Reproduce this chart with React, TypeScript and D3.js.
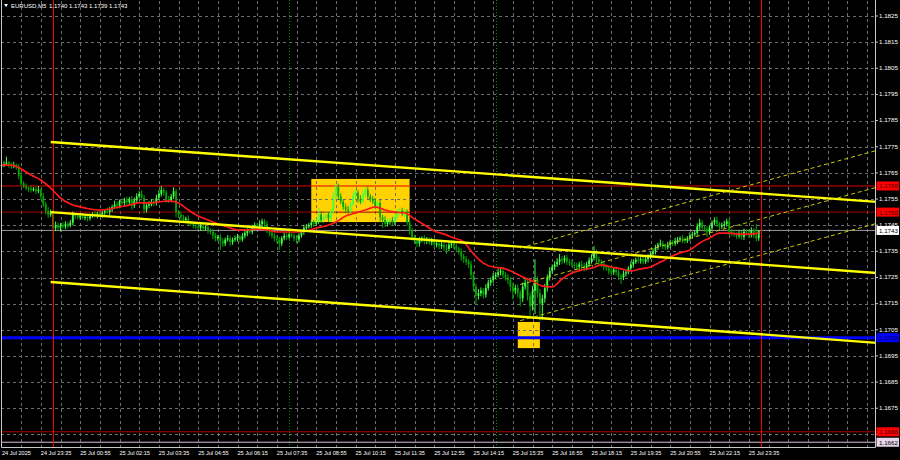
import React from 'react';
import * as d3 from 'd3';

// EURUSD M5, 24 Jul 22:15 .. 25 Jul 23:55 (309 bars)
// prices kept in points (0.00001) above BASE to keep the arrays short
const BASE = 1.17;
const FIRST_OPEN = 675;

const closePts = [
  680, 684, 690, 682, 676, 680, 674, 640, 610, 600,
  592, 590, 585, 588, 580, 584, 560, 530, 505, 490,
  500, 440, 450, 440, 450, 445, 455, 450, 460, 490,
  485, 480, 485, 478, 482, 476, 488, 492, 486, 494,
  490, 498, 505, 500, 510, 520, 530, 525, 540, 535,
  545, 538, 550, 525, 545, 560, 570, 555, 510, 525,
  530, 540, 535, 555, 570, 585, 575, 550, 545, 560,
  580, 500, 490, 480, 470, 475, 460, 455, 450, 445,
  440, 448, 438, 442, 430, 425, 410, 400, 405, 390,
  380, 395, 400, 385, 395, 400, 405, 395, 410, 420,
  430, 425, 440, 450, 445, 455, 465, 455, 430, 420,
  410, 400, 395, 380, 400, 410, 405, 415, 410, 400,
  395, 410, 425, 440, 445, 450, 460, 455, 465, 490,
  470, 480, 490, 475, 500, 560, 595, 560, 540, 520,
  510, 505, 530, 560, 575, 550, 540, 570, 585, 560,
  550, 540, 525, 535, 480, 470, 455, 465, 470, 460,
  480, 500, 505, 495, 500, 460, 430, 405, 390, 380,
  395, 400, 390, 395, 385, 390, 375, 380, 370, 375,
  365, 360, 375, 380, 370, 360, 350, 330, 320, 310,
  300, 260, 215, 180, 190, 200, 185, 210, 230, 240,
  255, 260, 270, 275, 260, 250, 240, 215, 200, 210,
  190, 170, 215, 230, 180, 140, 200, 240, 190, 150,
  170, 210, 250, 275, 290, 300, 310, 320, 315, 325,
  310, 305, 300, 295, 290, 300, 295, 285, 300, 315,
  325, 345, 320, 310, 300, 290, 285, 275, 270, 280,
  270, 255, 250, 265, 270, 285, 300, 310, 318, 315,
  320, 310, 320, 330, 340, 350, 365, 375, 380, 370,
  365, 375, 385, 380, 390, 395, 400, 395, 390, 400,
  410, 415, 420, 445, 460, 440, 435, 425, 440, 460,
  470, 455, 445, 450, 455, 465, 425, 420, 415, 410,
  420, 405, 425, 420, 415, 430, 410, 400, 430,
];

// wick length above the body, points
const upWick = [
  8, 10, 22, 6, 8, 12, 6, 10, 12, 8,
  10, 6, 12, 8, 10, 16, 8, 12, 10, 14,
  10, 12, 14, 10, 8, 12, 10, 8, 10, 12,
  8, 10, 6, 12, 8, 10, 6, 8, 12, 8,
  10, 8, 6, 12, 10, 8, 14, 10, 8, 12,
  10, 14, 8, 12, 10, 12, 10, 14, 10, 8,
  12, 10, 8, 12, 14, 15, 8, 10, 12, 10,
  15, 10, 8, 12, 10, 8, 12, 6, 10, 8,
  10, 8, 12, 6, 10, 8, 12, 10, 8, 12,
  10, 8, 12, 10, 8, 10, 12, 8, 10, 12,
  8, 10, 12, 10, 8, 14, 10, 8, 12, 10,
  8, 10, 12, 10, 8, 12, 10, 14, 8, 10,
  12, 10, 8, 12, 10, 8, 12, 10, 14, 25,
  12, 10, 14, 10, 12, 15, 10, 14, 12, 10,
  12, 14, 10, 16, 12, 10, 14, 12, 10, 14,
  10, 12, 14, 10, 12, 10, 14, 12, 10, 12,
  14, 12, 10, 12, 14, 10, 12, 10, 8, 12,
  10, 8, 12, 10, 8, 12, 10, 8, 12, 10,
  8, 12, 10, 8, 12, 10, 8, 12, 10, 12,
  10, 14, 12, 10, 16, 12, 10, 14, 12, 10,
  12, 10, 14, 15, 12, 10, 14, 12, 16, 12,
  14, 12, 16, 15, 14, 12, 18, 80, 14, 16,
  14, 16, 12, 14, 10, 12, 14, 20, 12, 10,
  12, 10, 14, 10, 12, 10, 14, 12, 10, 12,
  14, 25, 12, 10, 8, 12, 10, 8, 12, 10,
  12, 10, 8, 12, 10, 8, 12, 10, 8, 12,
  10, 8, 12, 10, 8, 12, 10, 8, 15, 10,
  8, 12, 10, 8, 12, 10, 8, 12, 10, 8,
  12, 10, 8, 12, 15, 10, 8, 12, 10, 8,
  10, 12, 8, 10, 12, 10, 8, 10, 12, 8,
  10, 8, 12, 10, 8, 12, 10, 45, 0,
];

// wick length below the body, points
const downWick = [
  10, 8, 6, 12, 10, 8, 12, 14, 10, 8,
  8, 12, 10, 6, 10, 8, 12, 10, 14, 12,
  8, 50, 12, 10, 14, 8, 10, 12, 8, 10,
  12, 8, 10, 6, 10, 12, 8, 10, 6, 10,
  8, 12, 10, 8, 12, 10, 8, 12, 10, 8,
  12, 10, 14, 15, 10, 12, 8, 10, 15, 12,
  10, 8, 12, 10, 8, 10, 12, 14, 10, 8,
  10, 20, 12, 10, 8, 12, 10, 8, 12, 10,
  8, 12, 10, 8, 12, 10, 14, 12, 10, 35,
  12, 10, 8, 14, 10, 8, 12, 10, 8, 10,
  12, 8, 10, 12, 8, 10, 12, 14, 10, 12,
  10, 12, 14, 25, 10, 8, 12, 10, 8, 12,
  15, 10, 8, 12, 10, 8, 10, 12, 8, 10,
  12, 10, 8, 14, 10, 8, 12, 14, 10, 12,
  14, 12, 10, 8, 12, 14, 10, 8, 12, 10,
  12, 10, 14, 12, 16, 30, 12, 10, 14, 12,
  10, 8, 12, 10, 14, 12, 16, 14, 12, 14,
  12, 10, 14, 12, 10, 12, 14, 10, 12, 10,
  14, 20, 10, 12, 10, 14, 12, 16, 14, 12,
  14, 16, 18, 35, 14, 12, 16, 12, 10, 12,
  10, 12, 10, 12, 14, 12, 16, 18, 35, 14,
  16, 30, 14, 12, 18, 45, 16, 90, 18, 65,
  60, 16, 14, 12, 10, 12, 10, 12, 14, 10,
  12, 10, 8, 12, 10, 14, 10, 12, 8, 10,
  12, 10, 14, 12, 10, 12, 10, 12, 15, 10,
  12, 14, 25, 10, 12, 8, 10, 12, 8, 10,
  12, 10, 8, 12, 10, 8, 12, 10, 8, 12,
  10, 8, 12, 10, 8, 12, 10, 14, 10, 8,
  10, 12, 8, 10, 12, 14, 10, 20, 12, 10,
  10, 12, 14, 10, 12, 10, 14, 12, 10, 12,
  10, 10, 12, 10, 14, 12, 10, 12, 10,
];

// red moving average, read every 4th bar (points)
const MA_STEP = 4;
const maPts = [
  680, 680, 665, 642, 623, 592, 554, 531, 520, 512,
  508, 512, 520, 527, 535, 535, 539, 543, 535, 508,
  485, 470, 455, 443, 432, 432, 435, 432, 424, 424,
  424, 428, 439, 447, 462, 485, 497, 508, 520, 508,
  500, 497, 474, 451, 428, 416, 401, 386, 340, 305,
  290, 286, 271, 252, 237, 217, 214, 244, 267, 279,
  286, 298, 290, 283, 275, 283, 290, 309, 328, 344,
  355, 382, 401, 420, 420, 416, 416, 420,
];

const timeLabels = [
  '24 Jul 2025', '24 Jul 23:35', '25 Jul 00:55', '25 Jul 02:15', '25 Jul 03:35',
  '25 Jul 04:55', '25 Jul 06:15', '25 Jul 07:35', '25 Jul 08:55', '25 Jul 10:15',
  '25 Jul 11:35', '25 Jul 12:55', '25 Jul 14:15', '25 Jul 15:35', '25 Jul 16:55',
  '25 Jul 18:15', '25 Jul 19:35', '25 Jul 20:55', '25 Jul 22:15', '25 Jul 23:35',
];
const LABEL_EVERY = 16;
const GRID_EVERY = 8;

// price scale labels (1.1665 sits under the 1.1666 tag, so only its grid line shows)
const priceTicks = [
  1.1825, 1.1815, 1.1805, 1.1795, 1.1785, 1.1775, 1.1765, 1.1755, 1.1745,
  1.1735, 1.1725, 1.1715, 1.1705, 1.1695, 1.1685, 1.1675, 1.1665,
];
const hiddenTicks = [1.1665];

// horizontal levels: resistance, support, bid, key level, lower levels
const levelPrices = [1.1760, 1.1750, 1.1743, 1.1702, 1.1666, 1.1662];

// descending channel (bar index, price)
const channelBars = [20, 356];
const channelUpper = [1.17768, 1.17539];
const channelMid = [1.17500, 1.17267];
const channelLower = [1.17233, 1.17000];

// rising regression channel, dashed
const regBars = [211, 356];
const regUpper = [1.17363, 1.17736];
const regMid = [1.17223, 1.17595];
const regLower = [1.17085, 1.17457];

// highlighted zones [fromBar, toBar], [topPrice, bottomPrice]
const boxBars = [[126, 166], [210, 219]];
const boxPrices = [[1.17627, 1.17462], [1.17080, 1.16980]];

const dayBars = [21, 309];
const sessionBars = [117, 201];

const W = 900;
const H = 460;
const PLOT_R = 875;
const PLOT_B = 447;
const FONT = '"Liberation Sans", Arial, sans-serif';

const LEVEL_STYLE = [
  { line: '#e00000', width: 1, box: '#ff0000', text: '#400000' },
  { line: '#a00000', width: 1, box: '#ff0000', text: '#400000' },
  { line: '#9a9a9a', width: 1, box: '#ffffff', text: '#000000' },
  { line: '#0000ff', width: 3, box: '#0000ff', text: '#000040' },
  { line: '#b00000', width: 1, box: '#ff0000', text: '#400000' },
  { line: '#d8bfd8', width: 1, box: '#e6d6ea', text: '#000000' },
];

export default function App() {
  const x = d3.scaleLinear().domain([0, 308]).range([1.5, 758.7]);
  const y = d3.scaleLinear().domain([1.1825, 1.1665]).range([16, 434.4]);
  const p = (v: number) => BASE + v / 100000;
  const px = (b: number) => Math.round(x(b)) + 0.5;

  const bars = closePts.map((c, i) => {
    const o = i === 0 ? FIRST_OPEN : closePts[i - 1];
    return {
      i,
      o: p(o),
      c: p(c),
      h: p(Math.max(o, c) + upWick[i]),
      l: p(Math.min(o, c) - downWick[i]),
    };
  });

  const maLine = d3
    .line<number>()
    .x((_, k) => x(k * MA_STEP))
    .y((v) => y(p(v)))
    .curve(d3.curveMonotoneX);

  const last = bars[bars.length - 1];
  const title = [last.o, last.h, last.l, last.c].map((v) => v.toFixed(4)).join(' ');

  const gridX = d3.range(GRID_EVERY, 357, GRID_EVERY);
  const seg = (b: number[], pr: number[]) => ({ x1: x(b[0]), y1: y(pr[0]), x2: x(b[1]), y2: y(pr[1]) });

  return (
    <div style={{ position: 'absolute', left: 0, top: 0 }}>
      <svg width={W} height={H} style={{ display: 'block', background: '#000' }} fontFamily={FONT}>
        <rect x={0} y={0} width={W} height={H} fill="#000" />

        {/* zones */}
        {boxBars.map((b, k) => (
          <rect
            key={k}
            x={x(b[0])}
            y={y(boxPrices[k][0])}
            width={x(b[1]) - x(b[0])}
            height={y(boxPrices[k][1]) - y(boxPrices[k][0])}
            fill="#ffd200"
          />
        ))}

        {/* grid */}
        <g stroke="#6e6e6e" strokeDasharray="3,3" strokeWidth={1} shapeRendering="crispEdges">
          {gridX.map((b) => (
            <line key={'gx' + b} x1={px(b)} x2={px(b)} y1={1} y2={PLOT_B} />
          ))}
          {priceTicks.map((t) => (
            <line key={'gy' + t} x1={1} x2={PLOT_R} y1={Math.round(y(t)) + 0.5} y2={Math.round(y(t)) + 0.5} />
          ))}
        </g>

        {/* session separators */}
        {sessionBars.map((b) => (
          <line key={'s' + b} x1={px(b)} x2={px(b)} y1={0} y2={PLOT_B}
            stroke="#008a00" strokeDasharray="1,2" shapeRendering="crispEdges" />
        ))}

        {/* horizontal levels */}
        {levelPrices.map((lv, k) => (
          <line key={'l' + k} x1={1} x2={PLOT_R} y1={y(lv)} y2={y(lv)}
            stroke={LEVEL_STYLE[k].line} strokeWidth={LEVEL_STYLE[k].width} />
        ))}

        {/* candles */}
        <g>
          {bars.map((d) => {
            const up = d.c >= d.o;
            const col = up ? '#45ff45' : '#00a800';
            const top = y(Math.max(d.o, d.c));
            const bh = Math.max(1, y(Math.min(d.o, d.c)) - top);
            return (
              <g key={d.i}>
                <line x1={x(d.i)} x2={x(d.i)} y1={y(d.h)} y2={y(d.l)} stroke={col} strokeWidth={1} />
                <rect x={x(d.i) - 0.9} y={top} width={1.8} height={bh} fill={col} />
              </g>
            );
          })}
        </g>

        {/* day separators */}
        {dayBars.map((b) => (
          <line key={'d' + b} x1={px(b)} x2={px(b)} y1={0} y2={PLOT_B}
            stroke="#ff0000" shapeRendering="crispEdges" />
        ))}

        {/* moving average */}
        <path d={maLine(maPts) || ''} fill="none" stroke="#ff1a1a" strokeWidth={1.7} />

        {/* descending channel */}
        {[channelUpper, channelMid, channelLower].map((c, k) => {
          const s = seg(channelBars, c);
          return <line key={'c' + k} {...s} stroke="#ffff00" strokeWidth={2.4} />;
        })}

        {/* regression channel */}
        {[regUpper, regMid, regLower].map((c, k) => {
          const s = seg(regBars, c);
          return <line key={'r' + k} {...s} stroke="#c8c800" strokeWidth={1} strokeDasharray="4,3" />;
        })}

        {/* frame */}
        <rect x={0} y={PLOT_B} width={W} height={H - PLOT_B} fill="#000" />
        <rect x={PLOT_R + 0.5} y={0} width={W - PLOT_R} height={H} fill="#000" />
        <path d={`M1.5,0 V${PLOT_B + 0.5} H${PLOT_R + 0.5} V0`} fill="none" stroke="#c8c8c8" strokeWidth={1} />

        {/* price axis */}
        <g fontSize={6.2} fill="#ffffff">
          {priceTicks.map((t) => (
            <g key={'pt' + t}>
              <line x1={PLOT_R} x2={PLOT_R + 3} y1={y(t)} y2={y(t)} stroke="#c8c8c8" />
              {hiddenTicks.includes(t) ? null : <text x={879} y={y(t) + 1.8}>{t.toFixed(4)}</text>}
            </g>
          ))}
        </g>
        {levelPrices.map((lv, k) => (
          <g key={'lb' + k}>
            <rect x={876.5} y={y(lv) - 4.5} width={22.5} height={9} fill={LEVEL_STYLE[k].box} />
            <text x={879} y={y(lv) + 2.4} fontSize={6.2} fill={LEVEL_STYLE[k].text}>{lv.toFixed(4)}</text>
          </g>
        ))}

        {/* time axis */}
        <g fontSize={5.6} fill="#ffffff">
          {timeLabels.map((t, k) => (
            <text key={t} x={k === 0 ? 2 : x(k * LABEL_EVERY)} y={455}>{t}</text>
          ))}
        </g>

        {/* header */}
        <path d="M4,4 L8,4 L6,7 Z" fill="#ffffff" />
        <text x={11} y={8} fontSize={6} fill="#ffffff">EURUSD,M5</text>
        <text x={49} y={8} fontSize={6} fill="#ffffff">{title}</text>
      </svg>
    </div>
  );
}
